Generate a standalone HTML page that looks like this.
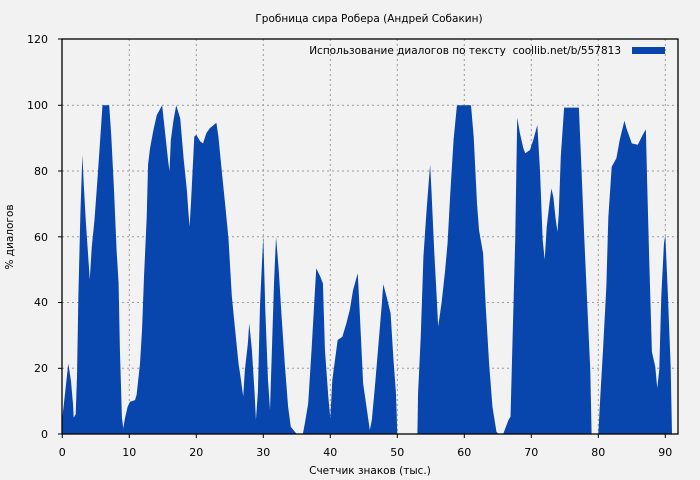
<!DOCTYPE html>
<html><head><meta charset="utf-8"><style>
html,body{margin:0;padding:0;background:#f2f2f2;}
svg{display:block;font-family:"DejaVu Sans","Liberation Sans",sans-serif;font-size:10.5px;fill:#000;}
</style></head><body>
<svg width="700" height="480" viewBox="0 0 700 480" xmlns="http://www.w3.org/2000/svg">
<rect width="700" height="480" fill="#f2f2f2"/>
<text x="369" y="22" text-anchor="middle">Гробница сира Робера (Андрей Собакин)</text>
<g stroke="#999" stroke-dasharray="2,3" stroke-width="1">
<line x1="129.3" y1="39" x2="129.3" y2="434"/><line x1="196.3" y1="39" x2="196.3" y2="434"/>
<line x1="263.3" y1="39" x2="263.3" y2="434"/><line x1="330.3" y1="39" x2="330.3" y2="434"/>
<line x1="397.3" y1="39" x2="397.3" y2="434"/><line x1="464.3" y1="39" x2="464.3" y2="434"/>
<line x1="531.3" y1="39" x2="531.3" y2="434"/><line x1="598.3" y1="39" x2="598.3" y2="434"/>
<line x1="665.3" y1="39" x2="665.3" y2="434"/>
<line x1="62" y1="105.3" x2="678" y2="105.3"/><line x1="62" y1="171" x2="678" y2="171"/>
<line x1="62" y1="236.8" x2="678" y2="236.8"/><line x1="62" y1="302.5" x2="678" y2="302.5"/>
<line x1="62" y1="368.3" x2="678" y2="368.3"/>
</g>
<g transform="translate(62.3,434) scale(6.7,-3.287)">
<polygon fill="#0845ad" points="0,0 0,4.8 0.9,21.5 1.3,16 1.6,9 1.7,5 2.0,6 2.2,18 2.4,42 2.7,67 3.0,85 3.2,76 3.5,65 3.9,53 4.1,47 4.4,57 4.8,65 5.3,79 5.6,88 6.0,100 7.0,100 7.3,91 7.7,75 8.1,56 8.4,46 8.6,25.5 8.9,5 9.1,1.7 9.35,4.8 9.75,8.3 10.1,9.8 10.85,10.3 11.1,12 11.6,21.5 11.9,31.6 12.2,48 12.6,66 12.8,82 13.1,87 13.6,92.5 14.1,97 14.9,100 15.3,92.5 15.8,83 16.0,80 16.2,89.5 16.6,95.5 17.0,100 17.6,96 18.1,84 18.6,74 18.8,68 19.0,63 19.2,70 19.7,90.5 20.0,91 20.6,89 21.0,88.4 21.5,91.5 22.0,93 23.0,94.7 23.3,90.5 23.8,80 24.3,70 24.8,59.5 25.3,42 25.8,31.6 26.3,21.5 26.6,17.4 27.0,11.4 27.25,19.5 27.7,27.6 27.9,33.7 28.3,25.5 28.7,12.4 28.9,4.3 29.2,13 29.5,38.7 29.8,52 30.0,60 30.3,37.7 30.7,16.4 31.0,7.3 31.3,26.6 31.6,46 31.9,60 32.3,50 32.7,36.7 33.2,21.5 33.7,8.3 34.1,2.2 34.7,0.7 35.0,0 35.9,0 36.2,3.2 36.7,9.3 37.2,25.5 37.6,39.8 37.9,50.4 38.5,47.9 38.9,45.8 39.2,25.5 39.7,11.4 40.0,4.8 40.3,16.4 40.7,22.5 41.1,28.6 41.8,29.6 42.4,33.7 42.9,37.7 43.4,43.8 44.1,48.9 44.4,36.7 44.9,15.4 45.4,8.3 45.9,1.2 46.2,4.3 46.7,15.4 47.2,27.6 47.7,39.8 47.9,45.6 48.4,41.8 49.0,36.7 49.4,23.5 49.8,12.4 50.0,0 53.0,0 53.1,12.4 53.5,29.6 53.9,54 54.4,69 54.9,82 55.1,74 55.5,56 55.9,40.8 56.1,32.7 56.6,39.8 57.1,49 57.5,58 57.9,73 58.4,89.5 58.9,100 61.0,100 61.4,90.5 61.9,70 62.2,62 62.8,55 63.2,38.7 63.7,21.5 64.2,8.3 64.8,0.7 65.1,0 65.8,0 66.6,4.3 66.9,5.3 67.2,28.6 67.6,59 67.9,96.3 68.3,91.5 68.8,87 69.1,85.4 69.8,86.4 70.3,89.5 70.9,94 71.3,80 71.7,59 72.0,53 72.3,63 72.7,70 73.0,74.7 73.3,72 73.6,66 73.9,61.5 74.1,67 74.4,84.4 74.9,99.3 77.1,99.3 77.5,80 77.9,60 78.3,41.8 78.8,19.5 79.0,0 80.0,0 80.3,11.4 80.7,25.5 81.2,44.8 81.5,66 82.0,81.3 82.7,83.9 83.2,89.5 83.9,95.3 84.2,93 85.0,88.4 85.9,88 86.5,90.5 87.1,92.7 87.3,76 87.6,53 88.0,25 88.5,20.5 88.8,13.9 89.1,19.5 89.4,41.8 89.8,58 90.0,60.5 90.4,41.8 90.8,20.5 91.0,0"/>
</g>
<rect x="62" y="39" width="616" height="395" fill="none" stroke="#000" stroke-width="1.3"/>
<g stroke="#000" stroke-width="1">
<line x1="58" y1="39" x2="62" y2="39"/><line x1="58" y1="105.3" x2="62" y2="105.3"/><line x1="58" y1="171" x2="62" y2="171"/>
<line x1="58" y1="236.8" x2="62" y2="236.8"/><line x1="58" y1="302.5" x2="62" y2="302.5"/><line x1="58" y1="368.3" x2="62" y2="368.3"/><line x1="58" y1="434" x2="62" y2="434"/>
<line x1="62.3" y1="434" x2="62.3" y2="438"/><line x1="129.3" y1="434" x2="129.3" y2="438"/><line x1="196.3" y1="434" x2="196.3" y2="438"/>
<line x1="263.3" y1="434" x2="263.3" y2="438"/><line x1="330.3" y1="434" x2="330.3" y2="438"/><line x1="397.3" y1="434" x2="397.3" y2="438"/>
<line x1="464.3" y1="434" x2="464.3" y2="438"/><line x1="531.3" y1="434" x2="531.3" y2="438"/><line x1="598.3" y1="434" x2="598.3" y2="438"/><line x1="665.3" y1="434" x2="665.3" y2="438"/>
</g>
<g text-anchor="end" font-size="11">
<text x="48" y="43">120</text><text x="48" y="109">100</text><text x="48" y="175">80</text>
<text x="48" y="241">60</text><text x="48" y="306">40</text><text x="48" y="372">20</text><text x="48" y="438">0</text>
</g>
<g text-anchor="middle">
<g font-size="11">
<text x="62.3" y="456">0</text><text x="129.3" y="456">10</text><text x="196.3" y="456">20</text>
<text x="263.3" y="456">30</text><text x="330.3" y="456">40</text><text x="397.3" y="456">50</text>
<text x="464.3" y="456">60</text><text x="531.3" y="456">70</text><text x="598.3" y="456">80</text><text x="665.3" y="456">90</text>
</g>
<text x="370" y="474">Счетчик знаков (тыс.)</text>
<text transform="translate(13,237) rotate(-90)">% диалогов</text>
</g>
<text x="621" y="54" text-anchor="end">Использование диалогов по тексту&#160; coollib.net/b/557813</text>
<rect x="632" y="47" width="33" height="7" fill="#0845ad"/>
</svg>
</body></html>
